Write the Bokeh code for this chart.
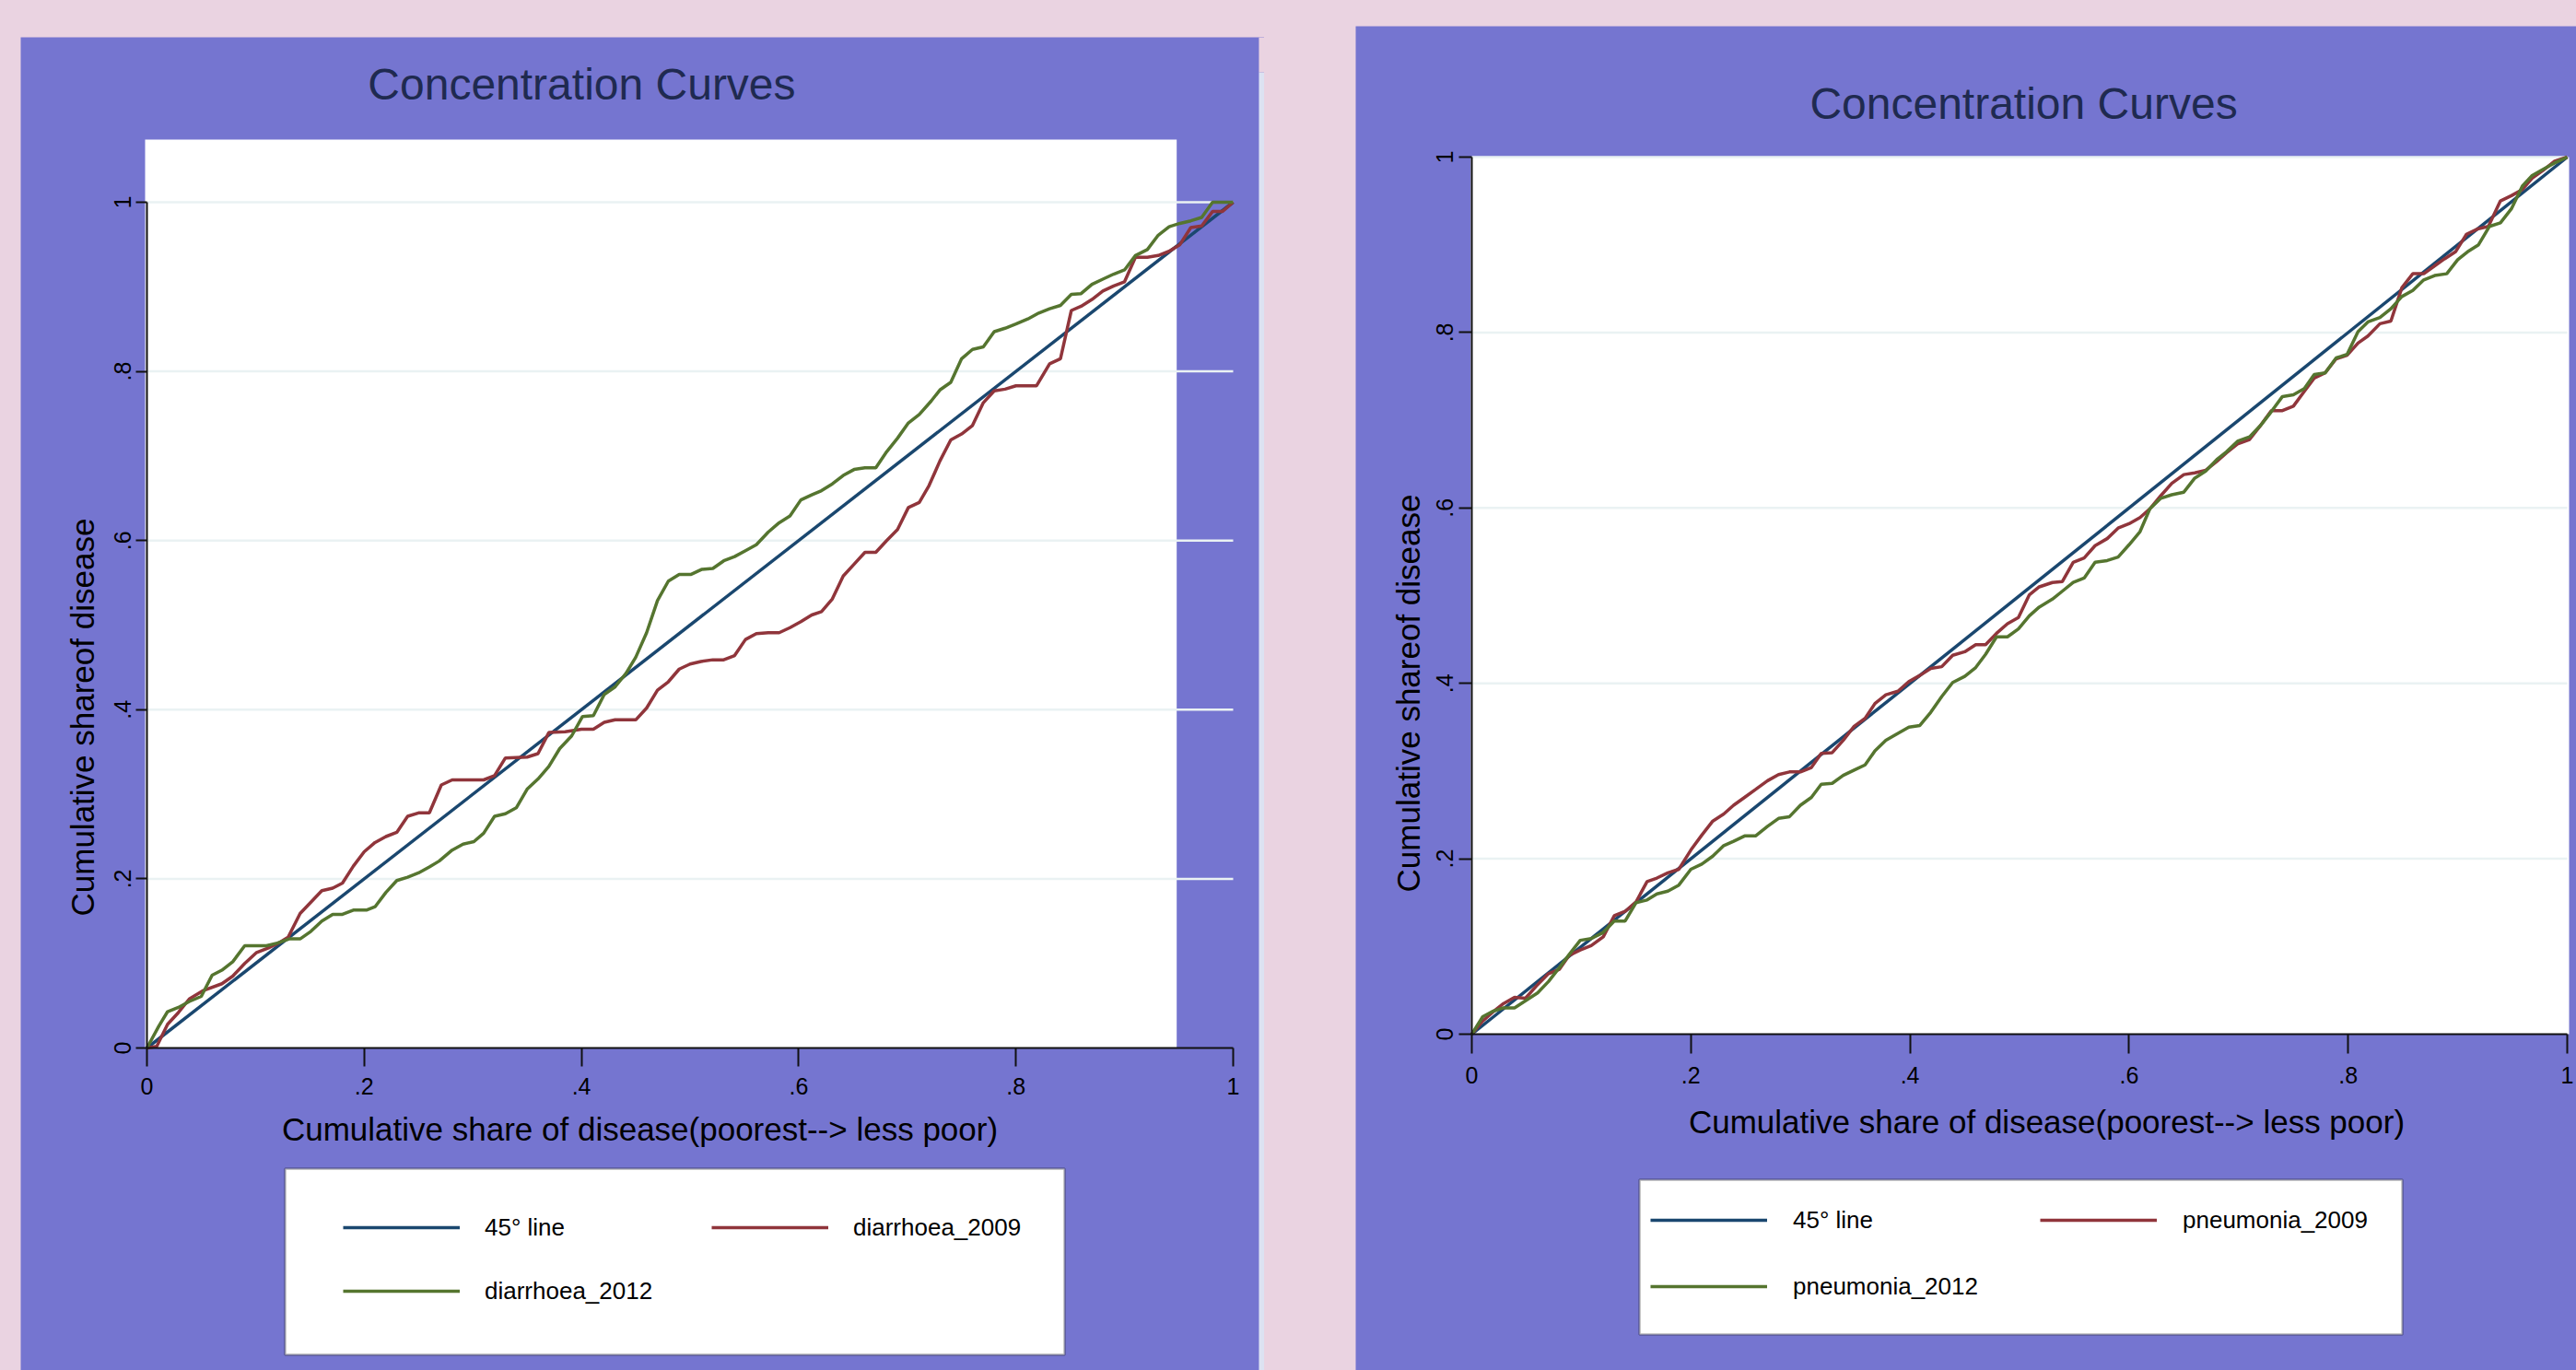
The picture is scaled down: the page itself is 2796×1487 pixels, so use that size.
import math
from bokeh.plotting import figure
from bokeh.models import Range1d, FixedTicker, Legend, LegendItem, Label, BoxAnnotation
from bokeh.layouts import row
from bokeh.embed import file_html
from bokeh.resources import INLINE

# ---------------- data ----------------
tick_values = [0, 0.2, 0.4, 0.6, 0.8, 1.0]
tick_labels = ["0", ".2", ".4", ".6", ".8", "1"]
grid_values = [0.2, 0.4, 0.6, 0.8, 1.0]

chart_title = "Concentration Curves"
x_title = "Cumulative share of disease(poorest--> less poor)"
y_title = "Cumulative shareof disease"

line45_x = [0, 1]
line45_y = [0, 1]

diarrhoea_2009 = [
    (0, 0), (.009, .002), (.019, .028), (.029, .042), (.039, .058), (.052, .068), (.069, .076),
    (.079, .085), (.090, .100), (.101, .113), (.113, .119), (.121, .124), (.130, .131), (.141, .159),
    (.161, .186), (.171, .189), (.180, .195), (.190, .215), (.200, .232), (.210, .243), (.220, .250),
    (.230, .255), (.240, .274), (.250, .278), (.260, .278), (.271, .311), (.281, .317), (.310, .317),
    (.320, .322), (.330, .343), (.350, .344), (.360, .348), (.370, .373), (.385, .374), (.400, .377),
    (.411, .377), (.421, .385), (.431, .388), (.450, .388), (.460, .402), (.470, .423), (.480, .433),
    (.490, .448), (.500, .454), (.510, .457), (.521, .459), (.531, .459), (.541, .464), (.551, .483),
    (.561, .490), (.572, .491), (.582, .491), (.592, .497), (.602, .504), (.612, .512), (.621, .516),
    (.631, .531), (.641, .558), (.651, .572), (.661, .586), (.671, .586), (.681, .600), (.691, .613),
    (.701, .639), (.711, .645), (.720, .665), (.730, .694), (.740, .719), (.750, .726), (.760, .736),
    (.770, .763), (.780, .777), (.790, .779), (.800, .783), (.819, .783), (.831, .809), (.841, .815),
    (.851, .872), (.860, .877), (.870, .885), (.880, .895), (.890, .901), (.900, .906), (.910, .935),
    (.921, .935), (.931, .937), (.941, .942), (.951, .950), (.961, .970), (.971, .972), (.981, .989),
    (.990, .989), (1.0, 1.0),
]

diarrhoea_2012 = [
    (0, 0), (.011, .026), (.019, .043), (.029, .048), (.039, .055), (.050, .061), (.060, .086),
    (.069, .092), (.079, .102), (.090, .121), (.110, .121), (.120, .124), (.131, .129), (.141, .129),
    (.151, .138), (.161, .150), (.171, .158), (.180, .158), (.190, .163), (.202, .163), (.210, .167),
    (.220, .184), (.230, .198), (.240, .202), (.250, .207), (.260, .214), (.269, .221), (.281, .234),
    (.291, .241), (.301, .244), (.310, .254), (.320, .274), (.330, .277), (.340, .284), (.350, .306),
    (.360, .318), (.370, .333), (.380, .354), (.391, .369), (.401, .392), (.411, .393), (.421, .418),
    (.431, .427), (.441, .443), (.450, .462), (.460, .491), (.470, .529), (.480, .552), (.490, .560),
    (.501, .560), (.511, .566), (.521, .567), (.531, .576), (.541, .581), (.551, .588), (.561, .595),
    (.572, .610), (.582, .621), (.592, .629), (.602, .648), (.612, .654), (.621, .659), (.631, .667),
    (.641, .677), (.651, .684), (.661, .686), (.671, .686), (.681, .705), (.691, .721), (.701, .739),
    (.711, .749), (.722, .765), (.730, .778), (.740, .787), (.750, .815), (.760, .826), (.770, .829),
    (.780, .847), (.790, .851), (.800, .856), (.811, .862), (.821, .869), (.831, .874), (.841, .878),
    (.851, .891), (.860, .892), (.870, .903), (.880, .909), (.890, .915), (.900, .920), (.910, .937),
    (.921, .944), (.931, .961), (.941, .971), (.951, .975), (.961, .978), (.971, .982), (.981, 1.0),
    (.990, 1.0), (1.0, 1.0),
]

pneumonia_2009 = [
    (0, 0), (.010, .015), (.019, .025), (.029, .035), (.039, .042), (.049, .041), (.059, .055),
    (.070, .069), (.080, .074), (.089, .090), (.099, .096), (.109, .101), (.120, .111), (.130, .135),
    (.140, .140), (.150, .151), (.160, .174), (.169, .178), (.179, .184), (.189, .188), (.200, .210),
    (.210, .227), (.220, .243), (.230, .251), (.239, .261), (.249, .270), (.259, .279), (.270, .289),
    (.280, .296), (.290, .299), (.300, .299), (.310, .304), (.319, .320), (.329, .321), (.339, .335),
    (.349, .351), (.359, .360), (.368, .377), (.378, .387), (.389, .391), (.399, .402), (.409, .409),
    (.419, .417), (.429, .419), (.439, .432), (.450, .436), (.460, .444), (.469, .444), (.479, .457),
    (.489, .468), (.499, .475), (.509, .501), (.518, .510), (.530, .515), (.539, .516), (.549, .538),
    (.559, .543), (.569, .557), (.580, .565), (.590, .577), (.600, .582), (.610, .589), (.619, .599),
    (.629, .614), (.639, .628), (.650, .638), (.660, .640), (.670, .643), (.680, .653), (.689, .663),
    (.699, .673), (.710, .678), (.720, .694), (.730, .711), (.740, .711), (.750, .716), (.760, .733),
    (.769, .748), (.779, .754), (.789, .770), (.799, .774), (.809, .788), (.818, .796), (.829, .810),
    (.839, .813), (.849, .851), (.859, .867), (.869, .867), (.879, .876), (.888, .884), (.898, .892),
    (.908, .912), (.918, .918), (.928, .921), (.939, .950), (.949, .956), (.959, .963), (.968, .976),
    (.978, .985), (.988, .995), (1.0, 1.0),
]

pneumonia_2012 = [
    (0, 0), (.010, .020), (.019, .026), (.029, .030), (.039, .030), (.049, .038), (.060, .047),
    (.070, .060), (.080, .076), (.089, .091), (.099, .107), (.109, .109), (.120, .116), (.130, .129),
    (.140, .129), (.150, .150), (.160, .153), (.169, .160), (.179, .163), (.189, .170), (.200, .188),
    (.210, .194), (.220, .203), (.230, .215), (.239, .220), (.249, .226), (.259, .226), (.270, .237),
    (.280, .246), (.290, .248), (.300, .261), (.310, .270), (.319, .285), (.329, .286), (.339, .295),
    (.349, .301), (.359, .307), (.368, .323), (.378, .335), (.389, .343), (.399, .350), (.409, .352),
    (.419, .367), (.429, .385), (.439, .401), (.450, .408), (.460, .418), (.469, .433), (.479, .453),
    (.489, .453), (.499, .462), (.509, .477), (.518, .487), (.530, .496), (.539, .505), (.549, .515),
    (.559, .520), (.569, .538), (.580, .540), (.590, .544), (.600, .558), (.610, .573), (.619, .599),
    (.629, .611), (.639, .615), (.650, .618), (.660, .634), (.670, .642), (.680, .655), (.689, .664),
    (.699, .676), (.710, .681), (.720, .694), (.730, .710), (.740, .727), (.750, .729), (.760, .736),
    (.769, .752), (.779, .754), (.789, .771), (.799, .775), (.809, .801), (.818, .812), (.829, .817),
    (.839, .827), (.849, .841), (.859, .848), (.869, .860), (.879, .865), (.890, .867), (.900, .883),
    (.909, .892), (.919, .900), (.929, .921), (.939, .925), (.949, .941), (.959, .967), (.968, .979),
    (.978, .986), (.988, .993), (1.0, 1.0),
]

# ---------------- style ----------------
PINK = "#EAD3E1"
PURPLE = "#7575D0"
GRID = "#EAF2F3"
EDGE = "#DCE2F2"
TITLE_COLOR = "#1F2A50"
C45 = "#1A476F"
C09 = "#90353B"
C12 = "#55752F"
FONT = "Liberation Sans"
LW = 3.5


def make_panel(cfg, series_a, series_b, name_a, name_b):
    p = figure(width=cfg["width"], height=cfg["height"],
               x_range=Range1d(*cfg["xr"]), y_range=Range1d(*cfg["yr"]),
               output_backend="svg", toolbar_location=None, title=None,
               min_border_left=0, min_border_right=0, min_border_top=0, min_border_bottom=0,
               border_fill_color=PINK, background_fill_color=PURPLE,
               outline_line_color=None)
    p.margin = cfg["margin"]

    # white plot region
    wl, wr, wb, wt = cfg["white"]
    p.add_layout(BoxAnnotation(left=wl, right=wr, bottom=wb, top=wt, fill_color="white",
                               fill_alpha=1, line_alpha=0, level="image"))
    # light edge strip of the graph image (pink above it)
    if cfg.get("edge") is not None:
        el, er, et = cfg["edge"]
        p.add_layout(BoxAnnotation(left=el, right=er, top=et, fill_color=EDGE,
                                   fill_alpha=1, line_alpha=0, level="image"))
        p.add_layout(BoxAnnotation(left=el, right=er, bottom=et, fill_color=PINK,
                                   fill_alpha=1, line_alpha=0, level="image"))

    ticker = FixedTicker(ticks=tick_values)
    overrides = dict(zip(tick_values, tick_labels))

    p.xgrid.visible = False
    p.ygrid.visible = False
    # horizontal grid lines spanning the x axis extent (0..1)
    p.segment(x0=[0] * len(grid_values), y0=grid_values, x1=[1] * len(grid_values), y1=grid_values,
              line_color=GRID, line_width=2.5)

    for ax in (p.xaxis[0], p.yaxis[0]):
        ax.fixed_location = 0
        ax.ticker = ticker
        ax.major_label_overrides = overrides
        ax.bounds = (0, 1)
        ax.axis_line_color = "#111111"
        ax.axis_line_width = 2
        ax.major_tick_line_color = "#111111"
        ax.major_tick_line_width = 2
        ax.major_tick_in = 0
        ax.minor_tick_line_color = None
        ax.major_label_text_font = FONT
        ax.major_label_text_font_size = "25px"
        ax.major_label_text_color = "black"
    p.xaxis.major_tick_out = cfg["xtick"]
    p.xaxis.major_label_standoff = cfg["xstand"]
    p.yaxis.major_tick_out = cfg["ytick"]
    p.yaxis.major_label_standoff = cfg["ystand"]
    p.yaxis.major_label_orientation = "vertical"

    r45 = p.line(line45_x, line45_y, line_color=C45, line_width=LW)
    ra = p.line([v[0] for v in series_a], [v[1] for v in series_a], line_color=C09, line_width=LW)
    rb = p.line([v[0] for v in series_b], [v[1] for v in series_b], line_color=C12, line_width=LW)

    p.add_layout(Label(x=cfg["title_xy"][0], y=cfg["title_xy"][1], text=chart_title,
                       text_font=FONT, text_font_size="48px", text_color=TITLE_COLOR,
                       text_align="center", text_baseline="alphabetic"))
    p.add_layout(Label(x=cfg["xlab_xy"][0], y=cfg["xlab_xy"][1], text=x_title,
                       text_font=FONT, text_font_size="35px", text_color="black",
                       text_align="center", text_baseline="alphabetic"))
    p.add_layout(Label(x=cfg["ylab_xy"][0], y=cfg["ylab_xy"][1], text=y_title, angle=math.pi / 2,
                       text_font=FONT, text_font_size="35px", text_color="black",
                       text_align="center", text_baseline="alphabetic"))

    # legend frame
    bl, br, bt, bb = cfg["legend_box"]
    p.add_layout(BoxAnnotation(left=bl, right=br, top=bt, bottom=bb, fill_color="white",
                               fill_alpha=1, line_color="#111111", line_width=2.5,
                               level="underlay"))

    lg = cfg["legend"]
    legend = Legend(items=[LegendItem(label="45° line", renderers=[r45]),
                           LegendItem(label=name_a, renderers=[ra]),
                           LegendItem(label=name_b, renderers=[rb])],
                    orientation="horizontal", ncols=2,
                    location=lg["loc"], margin=0, padding=10, spacing=lg["sp"],
                    glyph_width=127, glyph_height=40, label_height=40,
                    label_width=lg["lw"], label_standoff=lg["ls"],
                    label_text_font=FONT, label_text_font_size="26px", label_text_color="black",
                    background_fill_alpha=0, border_line_color=None)
    p.add_layout(legend)
    return p


# left panel: figure spans x 22..1372, y 40..1487 ; x=0 at 159, x=1 at 1338 ; y=0 at 1137, y=1 at 219
left_cfg = dict(width=1350, height=1447, margin=(40, 0, 0, 22),
                xr=(-0.1162, 1.02884), yr=(-0.38126, 1.19499),
                white=(-0.0017, 0.948, 0, 1.0741),
                edge=(1.0237, 1.03, 1.1536),
                xtick=20, xstand=12, ytick=12, ystand=5,
                title_xy=(0.4003, 1.1394), xlab_xy=(0.4538, -0.0954), ylab_xy=(-0.0593, 0.391),
                legend_box=(0.1272, 0.8448, -0.1427, -0.3627),
                legend=dict(loc=(350, 66), sp=29, lw=217, ls=27))

# right panel: figure spans x 1471..2796, y 28..1487 ; x=0 at 1597, x=1 at 2786 ; y=0 at 1122, y=1 at 170
right_cfg = dict(width=1325, height=1459, margin=(28, 0, 0, 99),
                 xr=(-0.10597, 1.00841), yr=(-0.3834, 1.14916),
                 white=(-0.001, 1.0017, 0, 1.0),
                 xtick=21, xstand=14, ytick=14, ystand=6,
                 title_xy=(0.5038, 1.0609), xlab_xy=(0.5248, -0.0993), ylab_xy=(-0.058, 0.3887),
                 legend_box=(0.1531, 0.8495, -0.166, -0.3424),
                 legend=dict(loc=(320, 71), sp=32, lw=236, ls=28))

p_left = make_panel(left_cfg, diarrhoea_2009, diarrhoea_2012, "diarrhoea_2009", "diarrhoea_2012")
p_right = make_panel(right_cfg, pneumonia_2009, pneumonia_2012, "pneumonia_2009", "pneumonia_2012")

layout = row(p_left, p_right, spacing=0, styles={"background-color": PINK})

open("out.html", "w").write(file_html(layout, INLINE))
